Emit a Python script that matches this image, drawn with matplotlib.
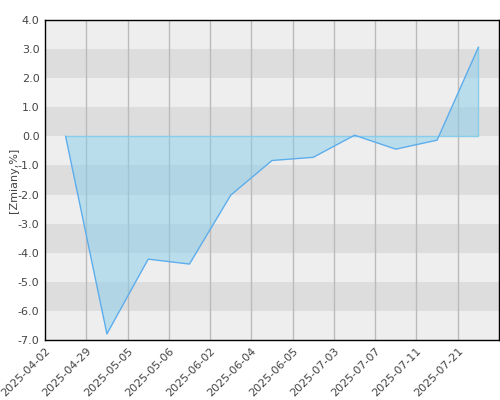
import matplotlib
matplotlib.use("Agg")
import matplotlib.pyplot as plt
import numpy as np

labels = ["2025-04-02", "2025-04-29", "2025-05-05", "2025-05-06", "2025-06-02",
          "2025-06-04", "2025-06-05", "2025-07-03", "2025-07-07", "2025-07-11",
          "2025-07-21"]
values = [0.0, -6.79, -4.22, -4.39, -2.02, -0.83, -0.72, 0.04, -0.44, -0.13, 3.06]
yticks = [4.0, 3.0, 2.0, 1.0, 0.0, -1.0, -2.0, -3.0, -4.0, -5.0, -6.0, -7.0]

fig = plt.figure(figsize=(5, 4), dpi=100)
ax = fig.add_axes([0.09, 0.15, 0.908, 0.80])

# background bands
for lo in range(-7, 4):
    col = "#DDDDDD" if (lo % 2 == 0) else "#EEEEEE"
    ax.axhspan(lo, lo + 1, color=col, lw=0, zorder=0)

n = len(values)
xs = np.arange(n) + 0.5
ax.set_xlim(0, n)
ax.set_ylim(-7, 4)

for i in range(1, n):
    ax.axvline(i, color="#BBBBBB", lw=1, zorder=1)

poly_x = np.concatenate([xs, xs[::-1]])
poly_y = np.concatenate([values, np.zeros(n)])
ax.fill(poly_x, poly_y, facecolor="#87CEEB", alpha=0.5, edgecolor="none", zorder=2)
ax.plot([xs[0], xs[-1], xs[-1]], [0, 0, values[-1]], color="#87CEEB", lw=1, zorder=3)
ax.plot(xs, values, color="#5DADEC", lw=1, zorder=4)

ax.set_yticks(yticks)
ax.set_yticklabels([f"{v:.1f}" for v in yticks], color="#444444", fontsize=8)
ax.set_xticks(np.arange(n))
ax.set_xticklabels(labels, rotation=45, ha="right", rotation_mode="anchor",
                   color="#444444", fontsize=8)
ax.tick_params(axis="both", length=0, pad=4)
ax.set_ylabel("[Zmiany,%]", color="#444444", fontsize=8, labelpad=-1)
for s in ax.spines.values():
    s.set_color("black")
    s.set_linewidth(1)

fig.savefig("out.png", dpi=100)
